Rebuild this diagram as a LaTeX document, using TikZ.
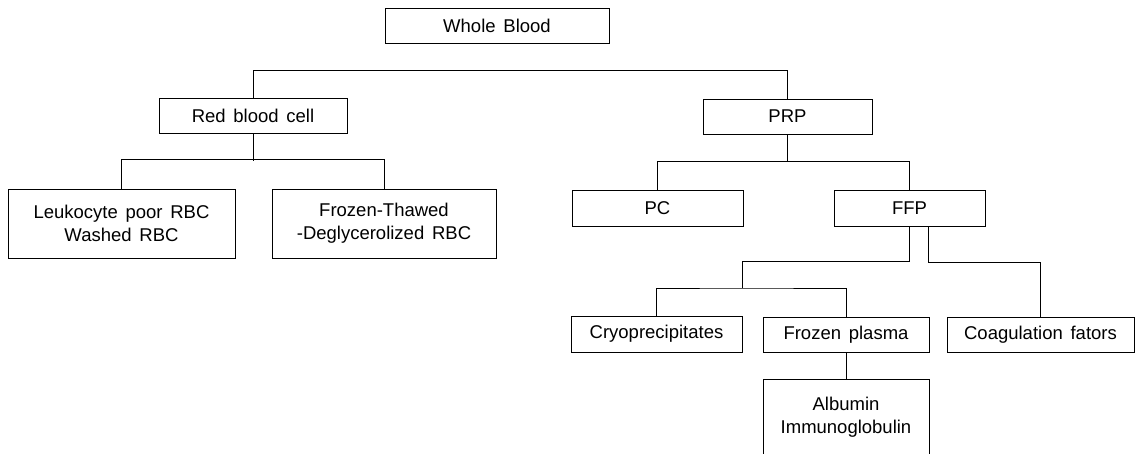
\documentclass[tikz,border=0pt]{standalone}
\usepackage{fontspec}
\setmainfont{Liberation Sans}
\usepackage{tikz}
\usetikzlibrary{positioning,calc}

\newcommand{\blkfont}{\fontsize{18.5}{23}\selectfont\spaceskip=0.42em\relax}
\tikzset{
  comp/.style={draw, semithick, inner sep=0pt, align=center, font=\blkfont},
}

\begin{document}
\begin{tikzpicture}[x=1pt, y=-1pt, semithick]
			\useasboundingbox (0,0) rectangle (1137,454);
			% top levels
			\node[comp, minimum width=224pt, minimum height=35pt] (whole) at (497,25.5) {Whole Blood};
			\node[comp, minimum width=188pt, minimum height=35pt] (rbc) at (253,115.5) {Red blood cell};
			\node[comp, minimum width=169pt, minimum height=35pt] (prp) at (787.5,116.5) {PRP};
			% red cell products
			\node[comp, minimum width=227pt, minimum height=69pt] (leuko) at (121.5,223.5) {Leukocyte poor RBC\\Washed RBC};
			\node[comp, minimum width=224pt, minimum height=69pt] (thawed) at (384,223.5) {Frozen-Thawed\\-Deglycerolized RBC};
			% plasma products
			\node[comp, minimum width=171pt, minimum height=36pt] (pc) at (657.5,208) {PC};
			\node[comp, minimum width=151pt, minimum height=36pt] (ffp) at (909.5,208) {FFP};
			\node[comp, minimum width=171pt, minimum height=36pt] (cryo) at (656.5,334) {Cryoprecipitates};
			\node[comp, minimum width=166pt, minimum height=35pt] (fplasma) at (846,334.5) {Frozen plasma};
			\node[comp, minimum width=187pt, minimum height=35pt] (coag) at (1040.5,334.5) {Coagulation fators};
			\node[comp, minimum width=166pt, minimum height=77pt] (alb) at (846,417.5) {Albumin\\Immunoglobulin};
			\coordinate (cfbar) at (742,288);

			\draw (rbc.north) -- ++(0,-27) -| (prp.north);
			\draw (rbc.south) -- ++(0,28);
			\draw (leuko.north) -- ++(0,-29) -| (thawed.north);
			\draw (prp.south) -- ++(0,28);
			\draw (pc.north) -- ++(0,-28) -| (ffp.north);
			\draw (ffp.south) -- ++(0,35) -| (cfbar);
			\draw (cryo.north) |- (cfbar) -| (fplasma.north);
			\draw ($(ffp.south)+(19,0)$) -- ++(0,36) -| (coag.north);
			\draw (fplasma.south) -- (alb.north);
		\end{tikzpicture}
\end{document}
